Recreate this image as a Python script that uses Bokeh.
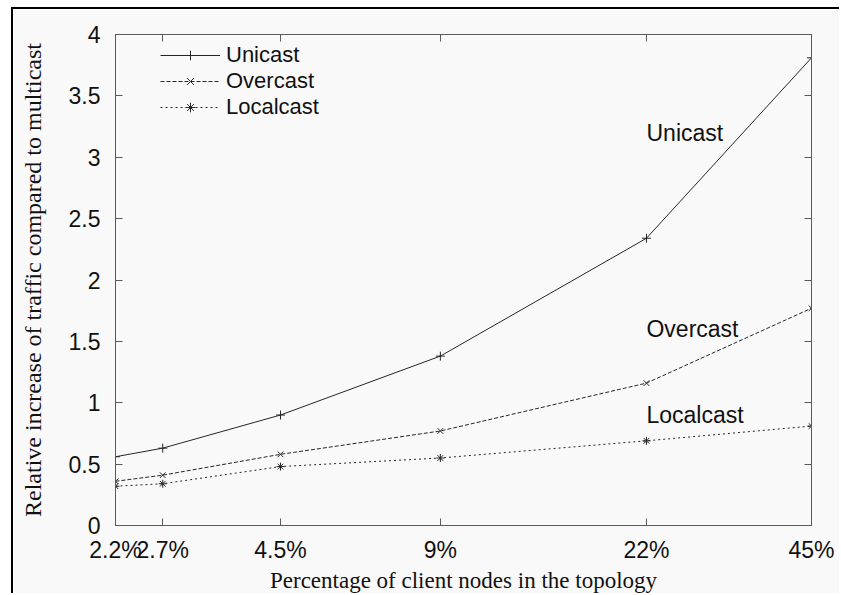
from bokeh.plotting import figure
from bokeh.models import (FixedTicker, LinearAxis, LogAxis, CustomJSTickFormatter,
                          NumeralTickFormatter, Legend, LegendItem, Range1d)
from bokeh.core.properties import value
from bokeh.embed import file_html
from bokeh.resources import INLINE

# ---- data ----
pct = [2.2, 2.7, 4.5, 9, 22, 45]
pct_ticks = [2.2, 2.7, 4.5, 9, 22, 45]
unicast = [0.56, 0.63, 0.90, 1.38, 2.34, 3.81]
overcast = [0.36, 0.41, 0.58, 0.77, 1.16, 1.77]
localcast = [0.32, 0.34, 0.48, 0.55, 0.69, 0.81]
y_ticks = [0, 0.5, 1, 1.5, 2, 2.5, 3, 3.5, 4]
curve_names = ["Unicast", "Overcast", "Localcast"]
curve_label_x = [22, 22, 22]
curve_label_y = [3.2, 1.6, 0.9]

SANS = "Liberation Sans"
SERIF = "Liberation Serif"
INK = "#262626"
AXC = "#5a5a5a"
BG = "#f9f9f9"

W, H = 828, 586
p = figure(width=W, height=H, x_axis_type="log",
           x_range=Range1d(2.2, 45), y_range=Range1d(0, 4),
           output_backend="svg", toolbar_location=None,
           min_border_left=102, min_border_right=30,
           min_border_top=25, min_border_bottom=70,
           background_fill_color=BG, border_fill_color=BG)
# outer black frame of the original figure (left/top edges visible)
p.styles = {"margin-left": "11px", "margin-top": "7px",
            "border-left": "2px solid black", "border-top": "2px solid black"}
p.grid.visible = False
p.outline_line_color = AXC

xt = FixedTicker(ticks=pct_ticks)
yt = FixedTicker(ticks=y_ticks)
blank = CustomJSTickFormatter(code="return '';")

def style_axis(ax):
    ax.axis_line_color = AXC
    ax.major_tick_line_color = AXC
    ax.major_tick_in = 7
    ax.major_tick_out = 0
    ax.minor_tick_line_color = None
    ax.major_label_text_font = SANS
    ax.major_label_text_color = "#111111"
    ax.major_label_text_font_size = "23px"
    ax.axis_label_text_font = SERIF
    ax.axis_label_text_font_style = "normal"
    ax.axis_label_text_font_size = "23px"
    ax.axis_label_text_color = "#111111"

xa = p.xaxis[0]
xa.ticker = xt
xa.formatter = CustomJSTickFormatter(code="return tick + '%';")
xa.axis_label = "Percentage of client nodes in the topology"
style_axis(xa)
xa.major_label_standoff = 11
xa.axis_label_standoff = 2

ya = p.yaxis[0]
ya.ticker = yt
ya.formatter = NumeralTickFormatter(format="0.[0]")
ya.axis_label = "Relative increase of traffic compared to multicast"
style_axis(ya)
ya.axis_label_text_font_size = "24px"
ya.major_label_standoff = 15
ya.axis_label_standoff = 20

top = LogAxis(ticker=xt, formatter=blank)
style_axis(top)
top.major_label_standoff = 0
p.add_layout(top, "above")
right = LinearAxis(ticker=yt, formatter=blank)
style_axis(right)
right.major_label_standoff = 0
p.add_layout(right, "right")

l1 = p.line(pct, unicast, line_color=INK, line_width=1)
m1 = p.scatter(pct, unicast, marker="cross", size=9, line_color=INK, line_width=1)
l2 = p.line(pct, overcast, line_color=INK, line_width=1, line_dash="4 2")
m2 = p.scatter(pct, overcast, marker="x", size=8, line_color=INK, line_width=1)
l3 = p.line(pct, localcast, line_color=INK, line_width=1, line_dash="2 3")
m3 = p.scatter(pct, localcast, marker="asterisk", size=8, line_color=INK, line_width=1)

p.text(x=curve_label_x, y=curve_label_y, text=curve_names,
       text_font=value(SANS), text_font_size="23px", text_color="#111111",
       text_align="left", text_baseline="middle")

legend = Legend(items=[LegendItem(label=curve_names[0], renderers=[l1, m1]),
                       LegendItem(label=curve_names[1], renderers=[l2, m2]),
                       LegendItem(label=curve_names[2], renderers=[l3, m3])],
                location=(45, 405), padding=0, margin=0, spacing=0,
                glyph_width=60, glyph_height=24, label_height=24,
                label_standoff=6,
                label_text_font=SANS, label_text_font_size="22px",
                label_text_color="#111111",
                border_line_color=None, background_fill_alpha=0)
p.add_layout(legend)

open("out.html", "w").write(file_html(p, INLINE))
